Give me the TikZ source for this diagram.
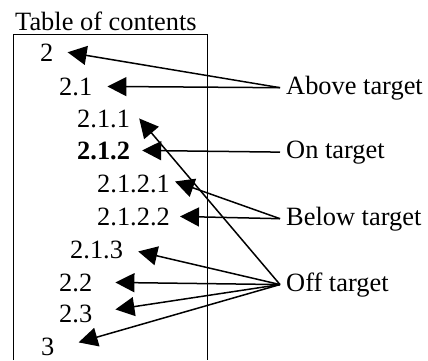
\documentclass[tikz,border=0pt]{standalone}
\usepackage{fontspec}
\setmainfont{Liberation Serif}
\usetikzlibrary{arrows.meta}

\begin{document}
\begin{tikzpicture}[x=1pt,y=-1pt,
	every node/.style={font=\fontsize{26.4}{30}\selectfont},
	entry/.style={anchor=base west,inner sep=0pt},
	tag/.style={anchor=base west,inner sep=6pt},
	pointer/.style={line width=1.5pt,-{Triangle[length=19pt,width=19pt]}}]
	\useasboundingbox (0,0) rectangle (428,360);
	\node[entry] (title) at (15,30) {Table of contents};
	\draw[line width=0.8pt] (13,360) -- (13,34) -- (207,34) -- (207,360);
	\node[entry] (e2) at (40,61) {2};
	\node[entry] (e21) at (59,95) {2.1};
	\node[entry] (e211) at (77,127) {2.1.1};
	\node[entry,font=\fontsize{26.4}{30}\selectfont\bfseries] (e212) at (77,159) {2.1.2};
	\node[entry] (e2121) at (97,192) {2.1.2.1};
	\node[entry] (e2122) at (97,225) {2.1.2.2};
	\node[entry] (e213) at (70,258) {2.1.3};
	\node[entry] (e22) at (59,291) {2.2};
	\node[entry] (e23) at (59,322) {2.3};
	\node[entry] (e3) at (41,355) {3};
	\node[tag] (above) at (280,94) {Above target};
	\node[tag] (on) at (280,158) {On target};
	\node[tag] (below) at (280,225) {Below target};
	\node[tag] (off) at (280,291) {Off target};
	\draw[pointer] (above.west) -- ([xshift=14pt]e2.east);
	\draw[pointer] (above.west) -- ([xshift=15pt]e21.east);
	\draw[pointer] (on.west) -- ([xshift=12pt]e212.east);
	\draw[pointer] (below.west) -- ([xshift=5pt,yshift=2pt]e2121.east);
	\draw[pointer] (below.west) -- ([xshift=10pt]e2122.east);
	\draw[pointer] (off.west) -- ([xshift=9pt]e211.east);
	\draw[pointer] (off.west) -- ([xshift=15pt,yshift=-2pt]e213.east);
	\draw[pointer] (off.west) -- ([xshift=23pt]e22.east);
	\draw[pointer] (off.west) -- ([xshift=23pt,yshift=4pt]e23.east);
	\draw[pointer] (off.west) -- ([xshift=24pt,yshift=4pt]e3.east);
\end{tikzpicture}
\end{document}
